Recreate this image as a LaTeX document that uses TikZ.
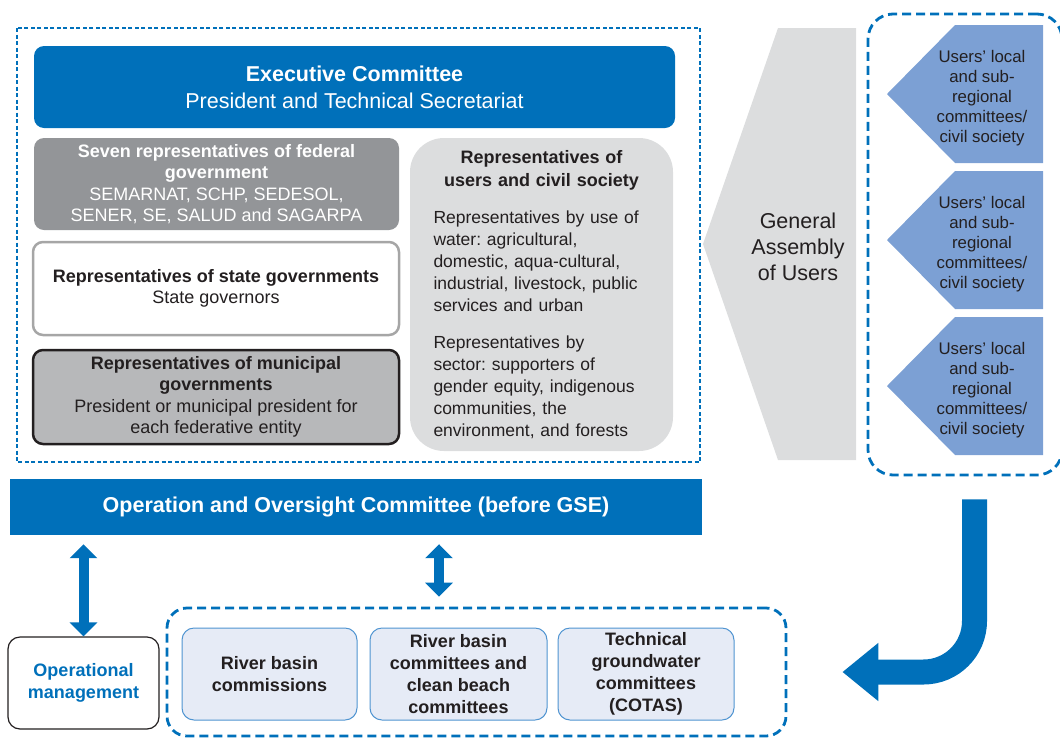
\documentclass[tikz,border=0pt]{standalone}
\usepackage{fontspec}
\setmainfont{Liberation Sans}
\usetikzlibrary{arrows.meta,positioning,calc}

\definecolor{ocblue}{RGB}{0,112,186}
\definecolor{fedgray}{RGB}{147,149,152}
\definecolor{munigray}{RGB}{183,184,186}
\definecolor{palegray}{RGB}{220,221,222}
\definecolor{pentblue}{RGB}{124,160,212}
\definecolor{lavender}{RGB}{230,235,246}
\definecolor{edgeblue}{RGB}{79,148,209}
\definecolor{stateedge}{RGB}{166,166,166}
\definecolor{darktext}{RGB}{35,31,32}

\tikzset{
  govbox/.style={rectangle, rounded corners=10, align=center, text=darktext,
    minimum width=366, minimum height=93, font=\fontsize{18}{21.5}\selectfont},
  botbox/.style={rectangle, rounded corners=12, align=center, fill=lavender,
    draw=edgeblue, line width=1, text=darktext, minimum height=92,
    font=\bfseries\fontsize{18}{22}\selectfont},
  thindash/.style={draw=ocblue, line width=1.2, dash pattern=on 4pt off 2.5pt},
  thickdash/.style={draw=ocblue, line width=2.8, dash pattern=on 9pt off 5pt},
  dblarrow/.style={draw=ocblue, line width=10, <->, >={Triangle[width=27pt,length=14pt]}},
  bigarrow/.style={draw=ocblue, line width=25, rounded corners=51,
    -{Triangle[width=56pt,length=36pt]}},
  penttext/.style={align=center, text=darktext, font=\fontsize{16.8}{20}\selectfont}
}

\begin{document}
\frenchspacing
\begin{tikzpicture}[x=1pt,y=-1pt]
    \useasboundingbox (0,0) rectangle (1060,737);

    %% Basin council

    % Council frame
    \draw[thindash] (17,28) rectangle (700,462);

    % Executive committee
    \node[govbox, fill=ocblue, text=white, minimum width=641, minimum height=82,
      font=\fontsize{21.5}{27}\selectfont] (exec) at (354.5,87)
      {\textbf{Executive Committee}\\President and Technical Secretariat};

    % Government representatives
    \node[govbox, fill=fedgray, text=white, minimum width=365, minimum height=92] (fed) at (216.5,184)
      {\textbf{Seven representatives of federal}\\\textbf{government}\\SEMARNAT, SCHP, SEDESOL,\\SENER, SE, SALUD and SAGARPA};
    \node[govbox, fill=white, draw=stateedge, line width=2.5] (state) at (216,288.5)
      {\textbf{Representatives of state governments}\\State governors};
    \node[govbox, fill=munigray, draw=darktext, line width=2.5, minimum height=94] (muni) at (216,397)
      {\textbf{Representatives of municipal}\\\textbf{governments}\\President or municipal president for\\each federative entity};

    % Users and civil society
    \node[rectangle, rounded corners=34, fill=palegray, text=darktext, minimum width=263,
      minimum height=313, text width=216, font=\fontsize{17.5}{22}\selectfont] (users) at (541.5,294.5)
      {{\centering\bfseries\fontsize{18}{23}\selectfont Representatives of\\users and civil society\par}
       \vspace{15pt}
       \raggedright Representatives by use of\\water: agricultural,\\domestic, aqua-cultural,\\industrial, livestock, public\\services and urban\\[15pt]
       Representatives by\\sector: supporters of\\gender equity, indigenous\\communities, the\\environment, and forests};

    %% Users side

    % General assembly
    \fill[palegray] (703,244) -- (778,28) -- (856,28) -- (856,460) -- (778,460) -- cycle;
    \node[align=center, text=darktext, font=\fontsize{21.5}{26}\selectfont] (ga) at (798,246.5)
      {General\\Assembly\\of Users};

    % Local committees
    \node[thickdash, rectangle, rounded corners=25, minimum width=194, minimum height=461] (local) at (965,244.5) {};
    \foreach \t [count=\i] in {25,171,317} {
      \fill[pentblue] (887,\t+69) -- (955,\t) -- (1043,\t) -- (1043,\t+138) -- (955,\t+138) -- cycle;
      \node[penttext] (p\i) at (982,\t+73) {Users’ local\\and sub-\\regional\\committees/\\civil society};
    }

    %% Operation

    % Oversight bar
    \node[fill=ocblue, text=white, minimum width=692, minimum height=56,
      font=\bfseries\fontsize{21.5}{26}\selectfont] (over) at (356,507)
      {Operation and Oversight Committee (before GSE)};

    % Operational management
    \node[rectangle, rounded corners=12, fill=white, draw=darktext, line width=1.2, align=center,
      text=ocblue, minimum width=151, minimum height=92, font=\bfseries\fontsize{18}{22}\selectfont] (opm) at (83.5,683)
      {Operational\\management};

    % Basin bodies
    \node[thickdash, rectangle, rounded corners=20, minimum width=619, minimum height=128] (grp) at (476.5,672) {};
    \node[botbox, minimum width=175] (rbc) at (269.5,674) {River basin\\commissions};
    \node[botbox, minimum width=177] (rbcc) at (458.5,674) {River basin\\committees and\\clean beach\\committees};
    \node[botbox, minimum width=176] (cotas) at (646,674) {Technical\\groundwater\\committees\\(COTAS)};

    % Links
    \coordinate (mid) at (439,0);
    \coordinate (turn) at (974.5,0);
    \draw[dblarrow, shorten <=9] (over.south -| opm.north) -- (opm.north);
    \draw[dblarrow, shorten <=9, shorten >=10] (over.south -| mid) -- (grp.north -| mid);
    \draw[bigarrow] ([yshift=-23]local.south -| turn) |- ([xshift=55]grp.east);

\end{tikzpicture}
\end{document}
